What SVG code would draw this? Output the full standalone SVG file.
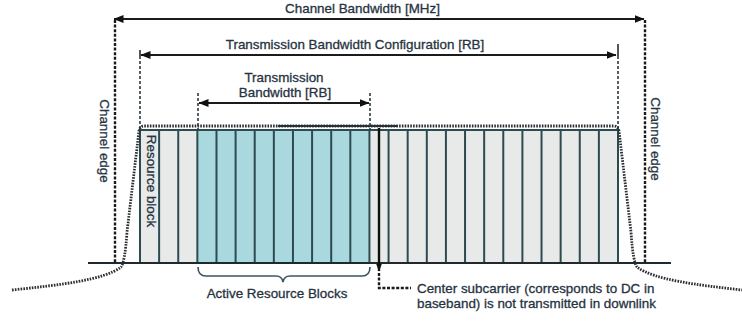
<svg xmlns="http://www.w3.org/2000/svg" width="742" height="321" viewBox="0 0 742 321">
<style>
  text { font-family: "Liberation Sans", Arial, sans-serif; font-size: 13.4px; fill: #26333f; stroke: #26333f; stroke-width: 0.3; }
  .mid { text-anchor: middle; }
  .dim { stroke: #1b1b1b; stroke-width: 2; fill: none; }
  .dash { stroke: #1a1a1a; stroke-width: 2.4; stroke-dasharray: 3 1.6; fill: none; }
  .tick { stroke: #2b3a40; stroke-width: 1.6; stroke-dasharray: 3 2; fill: none; }
  .rbline { stroke: #2d4a51; stroke-width: 2; }
  .spec { stroke: #2a2f35; stroke-width: 2.8; stroke-dasharray: 1.6 1.2; fill: none; }
</style>
<defs>
  <marker id="ah" viewBox="0 0 10 8" refX="9.5" refY="4" markerWidth="10" markerHeight="8" markerUnits="userSpaceOnUse" orient="auto-start-reverse">
    <path d="M0,0 L10,4 L0,8 Z" fill="#111"/>
  </marker>
  <marker id="ahs" viewBox="0 0 8 6" refX="7.5" refY="3" markerWidth="8" markerHeight="6" markerUnits="userSpaceOnUse" orient="auto">
    <path d="M0,0 L8,3 L0,6 Z" fill="#111"/>
  </marker>
</defs>
<rect width="742" height="321" fill="#ffffff"/>

<g id="resource-blocks">
  <rect x="140" y="130" width="478" height="133" fill="#e8eaea"/>
  <rect x="197.36" y="130" width="172.08" height="133" fill="#a9d9de"/>
  <line x1="140" y1="130" x2="618" y2="130" stroke="#2d4a51" stroke-width="2"/>
  <g class="rbline">
    <line x1="140" y1="128" x2="140" y2="263"/>
    <line x1="159.12" y1="130" x2="159.12" y2="263"/>
    <line x1="178.24" y1="130" x2="178.24" y2="263"/>
    <line x1="197.36" y1="130" x2="197.36" y2="263"/>
    <line x1="216.48" y1="130" x2="216.48" y2="263"/>
    <line x1="235.6" y1="130" x2="235.6" y2="263"/>
    <line x1="254.72" y1="130" x2="254.72" y2="263"/>
    <line x1="273.84" y1="130" x2="273.84" y2="263"/>
    <line x1="292.96" y1="130" x2="292.96" y2="263"/>
    <line x1="312.08" y1="130" x2="312.08" y2="263"/>
    <line x1="331.2" y1="130" x2="331.2" y2="263"/>
    <line x1="350.32" y1="130" x2="350.32" y2="263"/>
    <line x1="369.44" y1="130" x2="369.44" y2="263"/>
    <line x1="388.56" y1="130" x2="388.56" y2="263"/>
    <line x1="407.68" y1="130" x2="407.68" y2="263"/>
    <line x1="426.8" y1="130" x2="426.8" y2="263"/>
    <line x1="445.92" y1="130" x2="445.92" y2="263"/>
    <line x1="465.04" y1="130" x2="465.04" y2="263"/>
    <line x1="484.16" y1="130" x2="484.16" y2="263"/>
    <line x1="503.28" y1="130" x2="503.28" y2="263"/>
    <line x1="522.4" y1="130" x2="522.4" y2="263"/>
    <line x1="541.52" y1="130" x2="541.52" y2="263"/>
    <line x1="560.64" y1="130" x2="560.64" y2="263"/>
    <line x1="579.76" y1="130" x2="579.76" y2="263"/>
    <line x1="598.88" y1="130" x2="598.88" y2="263"/>
    <line x1="618" y1="128" x2="618" y2="263"/>
  </g>
  <text transform="translate(147,181) rotate(90)" class="mid">Resource block</text>
</g>

<g id="baseline">
  <line x1="88" y1="263" x2="671" y2="263" stroke="#1f2a30" stroke-width="2"/>
</g>

<g id="spectrum">
  <path class="spec" d="M12,290 C60,285 104,280 121,267 Q125,262 127,232 L139,131 Q140,126 144,126 L614,126 Q618,126 619,131 L631,232 Q633,262 637,267 C654,280 698,285 742,290"/>
  <line x1="278" y1="126" x2="398" y2="126" stroke="#2a2f35" stroke-width="2"/>
</g>

<g id="channel-edges">
  <line class="dash" x1="115" y1="20" x2="115" y2="263"/>
  <line class="dash" x1="645" y1="20" x2="645" y2="263"/>
  <text transform="translate(100,141) rotate(90)" class="mid">Channel edge</text>
  <text transform="translate(651,139) rotate(90)" class="mid">Channel edge</text>
</g>

<g id="connectors">
  <line class="dim" x1="114" y1="19" x2="644" y2="19" marker-start="url(#ah)" marker-end="url(#ah)"/>
  <line class="dim" x1="141" y1="55" x2="616" y2="55" marker-start="url(#ah)" marker-end="url(#ah)"/>
  <line x1="140" y1="50" x2="140" y2="56" stroke="#1b1b1b" stroke-width="1.5"/>
  <line x1="618" y1="44" x2="618" y2="56" stroke="#1b1b1b" stroke-width="1.5"/>
  <line class="tick" x1="140" y1="56" x2="140" y2="128"/>
  <line class="tick" x1="618" y1="56" x2="618" y2="128"/>
  <line class="dim" x1="199" y1="103" x2="369" y2="103" marker-start="url(#ah)" marker-end="url(#ah)"/>
  <line class="tick" x1="198" y1="93" x2="198" y2="130"/>
  <line class="tick" x1="370" y1="93" x2="370" y2="130"/>
  <line x1="379" y1="128" x2="379" y2="271" stroke="#0f0f0f" stroke-width="2.4" marker-end="url(#ahs)"/>
  <path class="dash" d="M379,273 L379,288 L411,288"/>
  <path d="M198,267 Q198,276 206,276 L276,276 Q282,276 283,282 Q284,276 290,276 L362,276 Q370,276 370,267" fill="none" stroke="#3b5660" stroke-width="1.6"/>
</g>

<g id="labels">
  <text x="362.5" y="13" class="mid">Channel Bandwidth [MHz]</text>
  <text x="355" y="49" class="mid">Transmission Bandwidth Configuration [RB]</text>
  <text x="284" y="82" class="mid">Transmission</text>
  <text x="285" y="97" class="mid">Bandwidth [RB]</text>
  <text x="277" y="298" class="mid">Active Resource Blocks</text>
  <text x="417" y="293">Center subcarrier (corresponds to DC in</text>
  <text x="417" y="308">baseband) is not transmitted in downlink</text>
</g>
</svg>
